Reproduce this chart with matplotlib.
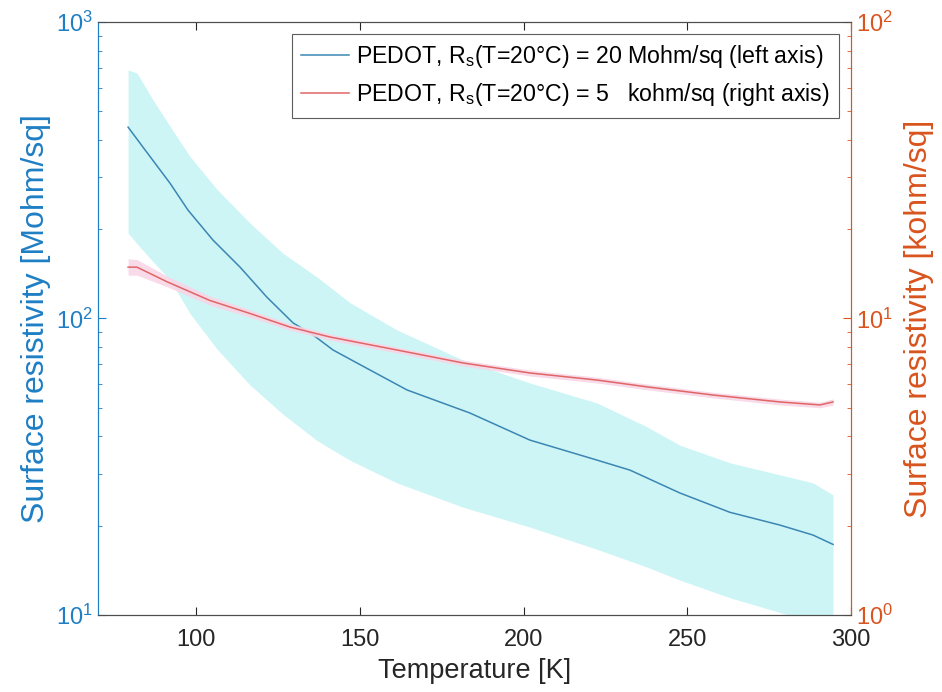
import numpy as np
import matplotlib
matplotlib.use('Agg')
from matplotlib import pyplot as plt

plt.rcParams['font.family'] = ['Liberation Sans', 'DejaVu Sans']
plt.rcParams['mathtext.fontset'] = 'custom'
plt.rcParams['mathtext.rm'] = 'Liberation Sans'
plt.rcParams['mathtext.it'] = 'Liberation Sans:italic'

# 20 Mohm/sq sample (left axis)
t_blue = [79.2, 83.7, 92.0, 97.5, 105.1, 113.4, 121.6, 129.6, 135.7, 141.8, 149.1,
          164.4, 183.6, 201.9, 222.4, 232.5, 247.7, 263.0, 278.3, 288.4, 294.5]
r_blue = [442, 379, 286, 232, 184, 149, 118, 96.6, 88, 78.3, 70.8,
          57.4, 48.0, 38.9, 33.3, 30.8, 25.8, 22.2, 20.1, 18.6, 17.3]

t_band_hi = [79.2, 81.9, 86.8, 92.0, 98.1, 106.3, 116.4, 126.5, 136.9, 147.0, 161.3,
             181.5, 201.9, 222.4, 237.7, 247.7, 263.0, 278.3, 288.4, 294.5]
r_band_hi = [689, 673, 546, 445, 352, 273, 210, 166, 138, 113, 91.5,
             72.4, 60.6, 51.9, 43.1, 37.4, 32.6, 29.7, 27.9, 25.4]

t_band_lo = [79.2, 92.9, 98.1, 104.2, 116.4, 128.6, 140.9, 161.3, 181.5, 201.9,
             217.2, 237.7, 257.8, 278.3, 294.5]
r_band_lo = [194, 132, 104, 84, 59.7, 45.5, 36.0, 27.9, 23.1, 19.8,
             17.5, 14.5, 11.9, 10.2, 9.0]

# 5 kohm/sq sample (right axis)
t_red = [79.2, 81.9, 91.1, 104.2, 116.4, 128.6, 140.9, 161.3, 181.5, 201.9,
         222.4, 237.7, 257.8, 278.3, 290.5, 294.5]
r_red = [14.9, 14.9, 13.3, 11.5, 10.4, 9.36, 8.66, 7.83, 7.08, 6.55,
         6.20, 5.88, 5.52, 5.23, 5.11, 5.23]
r_red_hi = [15.9, 15.8, 13.9, 11.9, 10.7, 9.6, 8.87, 8.01, 7.24, 6.70,
            6.34, 6.01, 5.64, 5.35, 5.22, 5.36]
r_red_lo = [14.0, 14.0, 12.8, 11.1, 10.1, 9.13, 8.45, 7.65, 6.92, 6.40,
            6.06, 5.75, 5.40, 5.11, 5.00, 5.10]

BLUE_AX = '#1f7fc4'
ORANGE_AX = '#d9541e'
GRAY = '#4d4d4d'

fig = plt.figure(figsize=(9.42, 6.92), dpi=100)
ax1 = fig.add_axes([0.104, 0.1113, 0.7994, 0.8569])
ax2 = ax1.twinx()

# blue band drawn on common grid of the two edges
tb = np.array(t_band_hi)
lo_on_hi = np.interp(np.log(tb), np.log(t_band_lo), np.log(r_band_lo))
ax1.fill_between(t_band_hi, np.exp(lo_on_hi), r_band_hi, color='#cdf5f6', lw=0)
l1, = ax1.plot(t_blue, r_blue, color='#3b86b3', lw=1.1,
               label=r'PEDOT, R$_\mathregular{s}$(T=20°C) = 20 Mohm/sq (left axis)')

ax2.fill_between(t_red, r_red_lo, r_red_hi, color='#f8d6e6', lw=0, alpha=0.9)
l2, = ax2.plot(t_red, r_red, color='#e06666', lw=1.1,
               label=r'PEDOT, R$_\mathregular{s}$(T=20°C) = 5   kohm/sq (right axis)')

ax1.set_yscale('log')
ax2.set_yscale('log')
ax1.set_ylim(10, 1000)
ax2.set_ylim(1, 100)
ax1.set_xlim(70, 300)
ax1.set_xticks([100, 150, 200, 250, 300])

for ax in (ax1, ax2):
    ax.spines['top'].set_color(GRAY)
    ax.spines['bottom'].set_color(GRAY)
    ax.spines['left'].set_color(BLUE_AX)
    ax.spines['right'].set_color(ORANGE_AX)

ax1.tick_params(axis='x', which='both', direction='in', top=True, length=6,
                colors='#262626', labelsize=17, pad=10, width=0.8)
ax1.tick_params(axis='y', which='major', direction='in', length=6, colors=BLUE_AX,
                labelsize=17)
ax1.tick_params(axis='y', which='minor', direction='in', length=3, colors=BLUE_AX)
ax2.tick_params(axis='y', which='major', direction='in', length=6, colors=ORANGE_AX,
                labelsize=17)
ax2.tick_params(axis='y', which='minor', direction='in', length=3, colors=ORANGE_AX)

ax1.set_xlabel('Temperature [K]', fontsize=19.5, color='#262626', labelpad=5)
ax1.set_ylabel('Surface resistivity [Mohm/sq]', fontsize=23, color=BLUE_AX, labelpad=4)
ax2.set_ylabel('Surface resistivity [kohm/sq]', fontsize=23, color=ORANGE_AX, labelpad=8)

leg = ax2.legend(handles=[l1, l2], loc='upper right', fontsize=16.7,
                 frameon=True, fancybox=False, edgecolor='#333333',
                 handlelength=2.1, handletextpad=0.3, borderaxespad=0.5,
                 labelspacing=0.5, borderpad=0.4)
leg.get_frame().set_linewidth(0.8)

fig.savefig('out.png', dpi=100)
